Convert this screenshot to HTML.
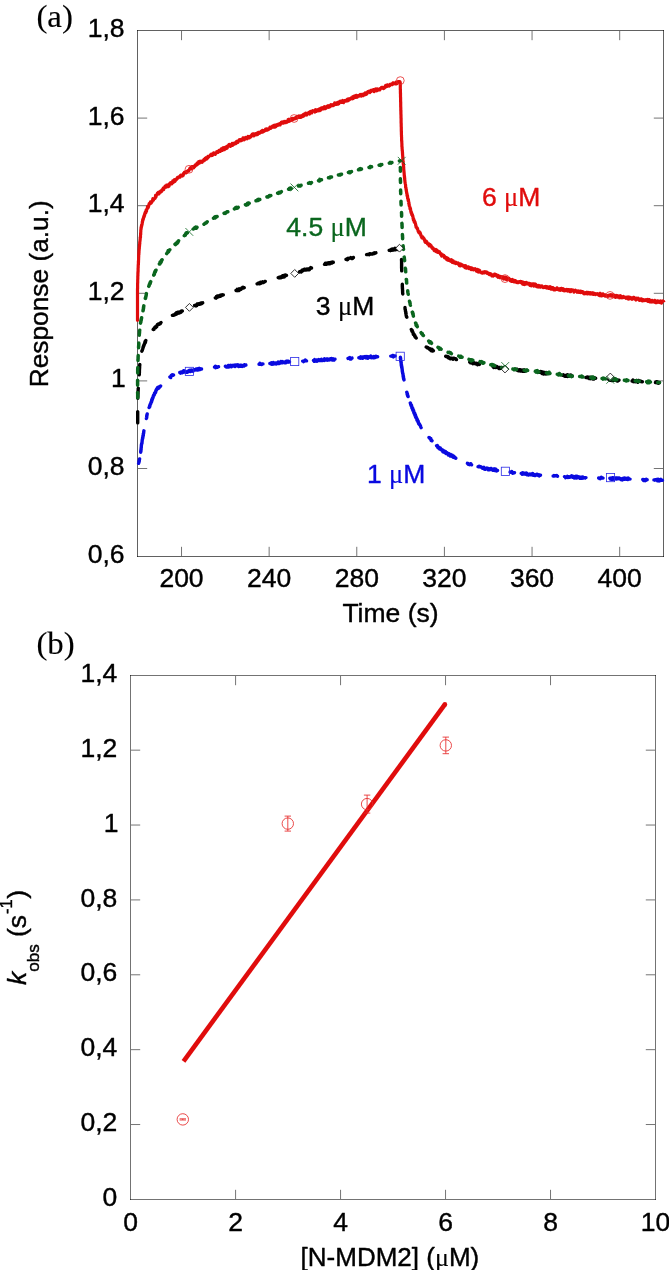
<!DOCTYPE html>
<html lang="en"><head><meta charset="utf-8"><title>Figure</title>
<style>html,body{margin:0;padding:0;background:#fff}svg{display:block}text{font-family:"Liberation Sans",sans-serif;fill:#000;stroke:#000;stroke-width:0.4px;stroke-linejoin:round}.se{font-family:"Liberation Serif",serif;stroke-width:0.12px}</style></head><body>
<svg width="669" height="1270" viewBox="0 0 669 1270">
<rect width="669" height="1270" fill="#fff"/>
<g fill="none" stroke="#000" stroke-width="1" stroke-opacity="0.62">
<path d="M137.0 30.5H664.0"/>
<path d="M137.0 556.5H664.0"/>
<path d="M137.5 30.0V557.0"/>
<path d="M663.5 30.0V557.0"/>
</g>
<path d="M181.52 556.0v-9.2M181.52 31.0v9.2M269.15 556.0v-9.2M269.15 31.0v9.2M356.78 556.0v-9.2M356.78 31.0v9.2M444.42 556.0v-9.2M444.42 31.0v9.2M532.05 556.0v-9.2M532.05 31.0v9.2M619.68 556.0v-9.2M619.68 31.0v9.2M138.0 468.50h9.2M663.0 468.50h-9.2M138.0 380.90h9.2M663.0 380.90h-9.2M138.0 293.30h9.2M663.0 293.30h-9.2M138.0 205.70h9.2M663.0 205.70h-9.2M138.0 118.10h9.2M663.0 118.10h-9.2" fill="none" stroke="#2a2a2a" stroke-width="0.65"/>
<text x="124.5" y="36.9" font-size="26.5" text-anchor="end">1,8</text>
<text x="124.5" y="124.5" font-size="26.5" text-anchor="end">1,6</text>
<text x="124.5" y="212.1" font-size="26.5" text-anchor="end">1,4</text>
<text x="124.5" y="299.7" font-size="26.5" text-anchor="end">1,2</text>
<text x="125.8" y="387.3" font-size="26.5" text-anchor="end">1</text>
<text x="124.5" y="474.9" font-size="26.5" text-anchor="end">0,8</text>
<text x="124.5" y="562.5" font-size="26.5" text-anchor="end">0,6</text>
<text x="181.5" y="587.3" font-size="26.5" text-anchor="middle">200</text>
<text x="269.1" y="587.3" font-size="26.5" text-anchor="middle">240</text>
<text x="356.8" y="587.3" font-size="26.5" text-anchor="middle">280</text>
<text x="444.4" y="587.3" font-size="26.5" text-anchor="middle">320</text>
<text x="532.0" y="587.3" font-size="26.5" text-anchor="middle">360</text>
<text x="619.7" y="587.3" font-size="26.5" text-anchor="middle">400</text>
<text x="390.5" y="621.9" font-size="26.5" text-anchor="middle">Time (s)</text>
<text transform="translate(47.6 387.3) rotate(-90)" font-size="26.3">Response (a.u.)</text>
<text class="se" x="36.4" y="27.1" font-size="30.6" textLength="36.6" lengthAdjust="spacingAndGlyphs">(a)</text>
<g fill="none" stroke-linejoin="round">
<path d="M137.7 422.9 137.7 422.5 137.7 422.3 137.7 421.2 137.7 421.4 137.7 421.1 137.7 420.9 137.7 419.2 137.7 419.2 137.7 418.3 137.7 419.1 137.7 418.5 137.7 416.8 137.7 418.1 137.7 417.6 137.7 416.6 137.7 416.0 137.7 414.8 137.7 414.0 137.7 414.5 137.7 413.1 137.7 412.9 137.7 412.5 137.7 411.6 137.7 412.1 137.7 411.7M137.8 398.2 137.8 397.7 137.9 396.7 137.9 396.6 137.9 397.3 137.9 396.4 137.9 394.8 137.9 394.6 138.0 393.9 138.0 393.4 138.0 394.3 138.0 392.7 138.0 393.0 138.0 392.4 138.1 391.5 138.1 392.0 138.1 390.5 138.1 391.0 138.2 389.7 138.2 389.8 138.2 388.9 138.2 388.7 138.3 388.3M139.2 374.8 139.3 374.4 139.3 374.0 139.3 374.0 139.3 372.3 139.3 373.3 139.4 372.8 139.4 371.9 139.4 371.2 139.4 370.3 139.4 369.7 139.4 370.9 139.5 369.2 139.5 369.6 139.5 368.3 139.5 368.9 139.6 368.0 139.6 367.0 139.6 366.4 139.6 366.9 139.7 365.3 139.7 365.1 139.8 364.9 139.8 364.5M141.9 351.2 142.1 350.7 142.2 350.3 142.3 350.2 142.4 350.1 142.5 349.4 142.7 348.9 142.8 348.6 142.9 348.4 143.1 347.0 143.2 347.2 143.3 347.1 143.5 346.6 143.6 345.4 143.8 345.7 144.0 345.5 144.1 344.6 144.3 344.3 144.5 343.5 144.7 343.5 144.8 343.1 145.0 341.7 145.2 342.3 145.4 342.5 145.6 341.0 145.8 340.6M153.2 329.4 153.5 329.0 153.9 329.5 154.2 328.3 154.5 328.4 154.8 327.6 155.1 327.0 155.4 327.3 155.8 327.5 156.1 327.2 156.4 326.5 156.8 326.6 157.1 325.0 157.4 324.5 157.8 324.7 158.1 324.2 158.5 323.9 158.8 324.0 159.2 324.2 159.5 323.7 159.9 323.2 160.2 323.8 160.6 322.8 161.0 322.5M172.4 315.3 172.8 315.2 173.2 314.9 173.6 315.3 174.0 314.7 174.4 314.7 174.9 314.7 175.3 313.8 175.7 314.3 176.1 314.3 176.5 312.7 176.9 314.0 177.3 313.5 177.8 312.2 178.2 312.7 178.6 312.8 179.0 313.1 179.4 312.0 179.8 312.1 180.3 312.5 180.7 312.1 181.1 312.2 181.5 311.1 181.9 311.3 182.3 311.1M194.6 305.5 195.0 305.4 195.4 305.6 195.9 306.0 196.3 305.1 196.7 305.7 197.2 303.9 197.6 304.0 198.0 304.4 198.4 303.7 198.9 304.3 199.3 304.0 199.7 303.6 200.1 304.1 200.6 303.5 201.0 302.9 201.4 302.9 201.8 303.6 202.3 302.9 202.7 302.8M215.3 297.8 215.7 297.7 216.1 298.1 216.5 296.4 216.9 297.4 217.4 295.9 217.8 296.1 218.2 296.0 218.6 296.7 219.1 296.0 219.5 295.9 219.9 296.3 220.3 295.2 220.7 296.2 221.2 295.0 221.6 295.6 222.0 295.0 222.4 294.8 222.9 295.0 223.3 294.9M236.0 290.4 236.4 290.3 236.9 290.6 237.3 289.3 237.7 289.6 238.2 290.3 238.6 290.6 239.0 290.5 239.4 288.8 239.9 289.3 240.3 289.6 240.7 289.0 241.1 289.2 241.6 288.1 242.0 287.7 242.4 287.5 242.9 287.2 243.3 288.0 243.7 287.9 244.2 287.7M257.1 283.8 257.5 283.7 257.9 283.7 258.4 283.1 258.8 283.3 259.2 283.0 259.7 283.8 260.1 283.3 260.5 282.2 261.0 283.3 261.4 282.8 261.8 282.8 262.2 282.7 262.7 281.9 263.1 282.6 263.5 282.5 264.0 282.0 264.4 282.0 264.8 281.5 265.3 281.4M278.2 277.6 278.7 277.5 279.1 278.0 279.5 277.2 280.0 277.0 280.4 277.8 280.8 277.0 281.3 277.7 281.7 277.0 282.1 277.2 282.6 275.8 283.0 276.7 283.4 276.9 283.9 275.4 284.3 276.9 284.8 275.3 285.2 275.8 285.6 275.1 286.1 275.5 286.5 275.4M299.5 271.9 300.0 271.7 300.4 271.8 300.8 271.2 301.2 271.9 301.7 271.5 302.1 271.0 302.5 269.9 302.9 270.7 303.4 270.3 303.8 269.7 304.2 269.2 304.7 270.0 305.1 269.2 305.5 269.7 305.9 270.0 306.4 269.5 306.8 269.1 307.2 269.6 307.6 269.1 308.1 269.7 308.5 269.1 308.9 269.8 309.4 269.6 309.8 269.0 310.2 268.0 310.7 267.6 311.1 268.1 311.5 268.0M324.5 264.4 325.0 264.3 325.4 263.2 325.9 263.2 326.3 264.3 326.7 263.9 327.2 264.0 327.6 262.9 328.0 263.2 328.5 262.8 328.9 263.7 329.4 262.8 329.8 263.2 330.2 263.7 330.7 262.4 331.1 262.7 331.5 262.9 332.0 263.1 332.4 262.1 332.9 262.4 333.3 262.3M346.0 259.3 346.4 259.2 346.9 258.8 347.3 259.7 347.7 259.5 348.2 258.3 348.6 258.4 349.1 258.3 349.5 258.2 349.9 258.1 350.4 258.0 350.8 257.6 351.2 258.2 351.7 258.5 352.1 258.0 352.6 258.4 353.0 257.6 353.4 257.5M366.6 254.6 367.1 254.5 367.5 254.4 368.0 254.4 368.4 254.6 368.8 254.5 369.3 254.7 369.7 253.7 370.2 254.3 370.6 253.9 371.0 254.1 371.5 253.9 371.9 253.9 372.4 253.9 372.8 254.0 373.3 253.4 373.7 253.1 374.1 253.4 374.6 253.5 375.0 252.8 375.5 252.9 375.9 252.8M389.2 250.3 389.6 250.2 390.1 250.3 390.5 250.6 390.9 249.9 391.4 249.3 391.8 250.3 392.3 250.3 392.7 249.1 393.2 249.3 393.6 250.0 394.0 249.1 394.5 248.6 394.9 248.2 395.4 249.8 395.8 249.5 396.3 248.7 396.7 248.8 397.1 248.7 397.6 248.2 398.0 249.4 398.5 248.5 398.9 248.5" stroke="#000" stroke-width="3.4" stroke-linecap="round"/>
<path d="M401.5 259.4 401.5 259.9 401.5 259.4 401.6 261.4 401.6 261.8 401.6 260.9 401.6 262.0 401.6 262.0 401.6 262.8 401.6 263.9 401.6 263.6 401.6 265.0 401.6 264.3 401.6 264.9 401.6 266.5 401.6 266.2 401.6 266.6 401.6 267.4 401.6 267.6 401.6 267.9 401.6 267.8 401.7 269.5 401.7 270.4 401.7 270.9 401.7 270.2 401.7 270.7M402.3 284.2 402.3 284.6 402.3 285.1 402.3 286.4 402.3 285.4 402.3 287.3 402.4 286.7 402.4 286.9 402.4 288.3 402.4 289.1 402.4 287.9 402.5 288.8 402.5 290.2 402.5 289.8 402.5 290.1 402.6 290.1 402.6 290.6 402.6 292.1 402.7 293.1 402.7 293.7 402.7 293.2 402.8 293.6 402.8 294.1M405.0 307.4 405.0 307.9 405.1 309.2 405.2 309.7 405.3 309.7 405.3 309.6 405.4 310.3 405.5 311.3 405.5 311.6 405.6 311.7 405.7 311.7 405.8 312.2 405.8 313.4 405.9 313.5 406.0 313.0 406.1 314.7 406.2 315.5 406.3 315.8 406.4 316.4 406.5 316.8 406.6 316.6 406.7 316.7 406.8 317.2M411.3 329.4 411.5 329.8 411.7 329.9 411.9 331.4 412.1 330.2 412.3 331.2 412.5 331.4 412.7 331.7 412.9 332.6 413.1 332.6 413.3 334.3 413.6 333.9 413.8 334.7 414.0 334.1 414.2 335.0 414.5 335.6 414.7 336.3 414.9 335.6 415.2 336.3 415.4 337.3 415.7 337.6 416.0 337.6 416.2 338.0M426.2 347.0 426.6 347.2 427.0 347.3 427.4 347.9 427.8 347.5 428.2 348.0 428.6 348.2 429.0 348.5 429.4 348.7 429.8 349.7 430.2 348.8 430.6 349.0 431.0 349.3 431.4 350.7 431.8 350.1 432.2 349.4 432.6 351.0 433.0 350.6 433.4 350.8M445.7 356.3 446.1 356.5 446.6 356.3 447.0 356.4 447.4 356.7 447.8 357.3 448.3 356.7 448.7 358.0 449.1 357.4 449.5 358.3 450.0 358.2 450.4 358.8 450.8 358.4 451.3 358.1 451.7 358.2 452.1 358.6 452.6 359.0 453.0 359.2 453.4 358.1 453.8 358.1 454.3 358.4 454.7 358.5 455.2 358.6 455.6 358.7 456.0 359.5 456.5 359.6M469.7 362.1 470.2 362.2 470.6 362.9 471.1 362.8 471.5 362.1 471.9 362.2 472.4 363.2 472.8 363.7 473.2 362.9 473.7 362.6 474.1 363.6 474.5 363.6 475.0 363.5 475.4 363.3 475.9 363.6 476.3 364.0 476.7 363.2 477.2 363.9 477.6 364.7 478.1 364.3 478.5 363.6 479.0 364.3 479.4 364.4M492.8 366.3 493.2 366.4 493.7 367.4 494.1 366.9 494.5 366.1 495.0 366.7 495.4 366.4 495.9 367.5 496.3 366.5 496.8 366.5 497.2 367.4 497.6 367.5 498.1 367.5 498.5 367.4 499.0 368.4 499.4 367.5 499.9 368.5 500.3 367.6 500.8 367.8 501.2 367.6 501.6 368.3 502.1 368.0 502.5 368.0M516.0 369.6 516.4 369.7 516.8 369.2 517.3 369.4 517.7 370.6 518.2 370.7 518.6 370.8 519.1 370.2 519.5 369.9 520.0 369.7 520.4 371.0 520.9 370.9 521.3 370.5 521.8 371.0 522.2 370.1 522.7 370.6 523.1 371.3 523.6 369.9 524.0 370.8 524.5 370.0 524.9 371.2 525.4 370.7 525.8 370.7M539.2 372.3 539.7 372.4 540.1 371.8 540.6 371.4 541.0 371.7 541.5 371.6 541.9 373.5 542.4 372.1 542.8 373.1 543.3 372.3 543.7 374.0 544.1 373.2 544.6 372.5 545.0 373.7 545.5 373.7 545.9 373.9 546.4 372.6 546.8 372.9 547.3 373.4 547.7 372.8 548.2 373.4 548.6 373.5 549.1 373.6M562.5 375.2 562.9 375.2 563.4 374.8 563.8 375.3 564.3 376.0 564.7 375.7 565.2 376.3 565.6 375.9 566.1 375.3 566.5 376.2 567.0 375.2 567.4 374.7 567.9 376.4 568.3 376.3 568.8 375.9 569.2 375.6 569.7 375.2 570.1 375.2 570.6 375.0 571.0 375.1 571.4 375.8 571.9 376.1 572.3 376.2M585.8 377.5 586.3 377.5 586.7 377.2 587.1 377.6 587.6 376.9 588.0 377.1 588.5 378.0 588.9 377.7 589.4 378.5 589.8 377.2 590.3 377.1 590.7 378.7 591.2 378.2 591.6 378.4 592.1 378.2 592.5 377.5 593.0 379.1 593.4 378.2 593.9 379.0 594.3 377.7 594.8 377.9 595.2 378.3 595.7 378.3M608.7 379.4 609.1 379.4 609.6 380.0 610.0 380.2 610.5 378.7 610.9 379.3 611.4 380.4 611.8 379.0 612.3 378.9 612.7 379.3 613.2 380.4 613.6 379.4 614.1 380.3 614.5 379.2 615.0 380.3 615.4 379.5 615.9 380.3 616.3 380.6 616.8 380.9 617.2 380.1 617.7 381.1 618.1 380.1 618.6 380.1 619.0 380.2M632.1 381.0 632.5 381.1 633.0 380.1 633.4 381.7 633.9 380.8 634.3 381.0 634.8 380.9 635.2 381.7 635.7 380.7 636.1 380.6 636.6 380.5 637.0 380.7 637.5 381.6 637.9 382.3 638.4 380.5 638.8 381.4 639.3 381.3 639.7 381.3 640.2 381.4 640.6 381.0 641.1 381.6 641.5 381.4 642.0 381.7 642.4 381.7M655.5 382.5 655.9 382.6 656.4 381.8 656.8 382.6 657.3 381.9 657.7 383.1 658.2 383.2 658.6 383.2 659.1 382.8 659.5 382.8" stroke="#000" stroke-width="3.4" stroke-linecap="round"/>
<path d="M137.7 397.8 137.7 397.3 137.7 397.3 137.7 396.4 137.7 396.0 137.7 395.1 137.7 394.2 137.7 394.5 137.7 394.5 137.7 393.1 137.7 393.3 137.6 392.8M137.6 385.2 137.6 384.7 137.6 384.0 137.6 383.8 137.6 382.8 137.6 382.2 137.6 383.3 137.6 381.7 137.6 382.3 137.6 380.9 137.6 380.7 137.6 380.2M137.7 373.0 137.7 372.6 137.7 371.4 137.7 372.1 137.7 372.2 137.7 370.9 137.7 370.5 137.7 370.1 137.7 370.1 137.7 368.7 137.7 369.0 137.8 368.1 137.8 367.6M138.0 360.4 138.0 360.0 138.0 360.5 138.0 360.1 138.0 359.0 138.1 359.1 138.1 357.9 138.1 357.3 138.1 356.6 138.1 357.3 138.2 355.9 138.2 355.5M138.6 347.8 138.6 347.4 138.6 347.2 138.7 345.5 138.7 345.4 138.7 346.1 138.7 345.6 138.7 345.4 138.8 344.4 138.8 343.7 138.8 343.3 138.8 342.9M139.3 335.2 139.3 334.8 139.3 333.8 139.4 333.3 139.4 333.6 139.4 332.5 139.5 333.3 139.5 332.4 139.5 331.0 139.6 331.2 139.6 330.7 139.7 330.3M140.5 323.1 140.6 322.7 140.7 322.0 140.8 322.4 140.9 321.3 140.9 320.4 141.0 320.5 141.1 319.9 141.2 320.5 141.3 318.9 141.4 318.8 141.5 318.3 141.6 317.8M143.0 310.8 143.1 310.3 143.2 309.3 143.2 310.2 143.3 309.6 143.4 308.6 143.5 308.4 143.5 306.9 143.6 307.5 143.7 306.6 143.7 306.3 143.8 305.9M145.3 298.4 145.4 297.9 145.5 298.4 145.6 297.8 145.7 297.1 145.8 296.9 145.9 296.3 146.0 296.3 146.1 295.5 146.2 295.1 146.3 294.0 146.4 293.6M148.8 286.3 149.0 285.9 149.1 285.7 149.3 284.4 149.5 284.2 149.7 284.3 149.8 283.9 150.0 282.8 150.2 283.6 150.4 282.1 150.5 282.1 150.7 281.7M153.7 275.1 153.8 274.7 154.0 274.8 154.2 274.7 154.4 273.9 154.6 272.3 154.8 272.8 155.0 271.5 155.2 272.1 155.4 271.8 155.6 270.5 155.8 270.7 156.0 270.2M159.4 263.9 159.7 263.6 159.9 264.0 160.1 262.0 160.4 262.7 160.6 261.4 160.9 262.5 161.1 261.9 161.4 261.5 161.6 260.1 161.9 260.1 162.1 259.8M166.7 253.6 166.9 253.3 167.2 252.7 167.5 252.7 167.8 252.3 168.1 251.0 168.3 250.5 168.6 251.7 168.9 250.7 169.2 250.2 169.5 250.1 169.8 249.8M175.0 244.2 175.3 243.9 175.7 244.6 176.0 243.6 176.3 243.9 176.6 243.7 177.0 242.4 177.3 243.1 177.6 242.7 178.0 242.2 178.3 241.1 178.6 240.8M184.3 235.7 184.6 235.3 184.9 235.0 185.3 235.2 185.6 234.1 185.9 233.4 186.3 232.9 186.6 233.3 186.9 233.2 187.3 232.9M193.3 229.0 193.7 228.8 194.1 228.5 194.5 227.9 194.9 228.3 195.3 228.0 195.8 227.0 196.2 228.3 196.6 227.6 197.0 227.4M204.0 224.2 204.3 223.9 204.7 223.6 205.1 223.3 205.4 223.0 205.8 223.1 206.1 222.7 206.5 222.6 206.9 222.1 207.2 221.8M213.5 218.2 213.9 218.0 214.3 217.3 214.7 217.7 215.1 217.9 215.5 216.8 215.9 217.4 216.3 216.6 216.7 216.7 217.1 216.5M224.1 213.3 224.5 213.1 224.9 212.8 225.3 213.4 225.7 213.0 226.1 212.5 226.6 212.4 227.0 211.7 227.4 211.8 227.8 211.7M234.4 208.9 234.9 208.7 235.3 208.0 235.7 207.7 236.1 208.3 236.5 207.4 237.0 207.7 237.4 208.2 237.8 207.6 238.2 207.4M245.4 204.7 245.8 204.6 246.2 205.1 246.7 204.7 247.1 204.3 247.5 203.4 247.9 204.7 248.3 203.0 248.8 203.5 249.2 203.3M256.0 200.8 256.4 200.7 256.8 200.7 257.2 200.1 257.7 199.5 258.1 199.6 258.5 200.3 258.9 199.4 259.3 199.6 259.8 199.5M267.0 196.9 267.4 196.7 267.8 196.6 268.3 196.9 268.7 196.3 269.1 195.8 269.5 195.5 269.9 196.0 270.4 195.7 270.8 195.5M277.6 193.1 278.0 193.0 278.4 193.3 278.9 192.4 279.3 192.2 279.7 192.9 280.1 192.4 280.5 192.4 281.0 191.9 281.4 191.7M288.6 189.2 289.0 189.0 289.5 188.3 289.9 189.2 290.3 188.0 290.7 188.5 291.2 188.3M298.5 186.0 298.9 185.9 299.3 185.6 299.8 186.0 300.2 186.1 300.6 185.4 301.1 185.3M308.5 183.3 308.9 183.2 309.4 182.8 309.8 182.6 310.2 182.9 310.7 183.5 311.1 182.7 311.5 182.5M318.5 180.6 318.9 180.5 319.4 181.0 319.8 179.4 320.2 180.4 320.7 179.8 321.1 179.9 321.5 179.8M328.5 177.8 328.9 177.7 329.3 177.6 329.8 178.0 330.2 176.9 330.6 176.9 331.1 177.1 331.5 177.0M338.4 175.0 338.9 174.9 339.3 174.9 339.7 174.5 340.2 175.0 340.6 174.7 341.0 174.3 341.5 174.2M348.4 172.4 348.9 172.3 349.3 171.8 349.7 172.8 350.2 172.4 350.6 172.3 351.1 171.7 351.5 171.6M358.5 169.8 358.9 169.7 359.4 169.0 359.8 169.0 360.2 168.6 360.7 169.4 361.1 169.2 361.5 169.1M369.0 167.4 369.4 167.3 369.9 167.6 370.3 166.5 370.8 167.2 371.2 166.9 371.6 166.8M379.1 165.2 379.6 165.1 380.0 164.8 380.5 165.4 380.9 164.5 381.3 164.7 381.8 164.6M389.3 163.1 389.7 163.0 390.2 162.4 390.6 162.9 391.0 163.2 391.5 162.6 391.9 162.5M399.4 161.0 399.9 160.9 400.3 160.8" stroke="#0a661e" stroke-width="3.5" stroke-linecap="round"/>
<path d="M400.3 167.6 400.3 168.0 400.4 167.7 400.4 169.6 400.4 169.5 400.4 169.4 400.4 169.5 400.4 170.7 400.4 171.2M400.4 178.8 400.4 179.3 400.4 178.8 400.4 180.9 400.5 180.6 400.5 181.2 400.5 181.5 400.5 182.0 400.5 182.4M400.6 190.1 400.6 190.5 400.6 190.2 400.6 192.1 400.7 191.3 400.7 192.4 400.7 192.5 400.7 193.2 400.7 193.7M401.0 201.3 401.0 201.8 401.0 202.2 401.0 203.2 401.1 203.5 401.1 203.5 401.1 204.7 401.1 204.5 401.1 204.9M401.5 212.6 401.5 213.0 401.5 212.7 401.6 213.9 401.6 213.9 401.6 214.6 401.6 215.8 401.6 215.7 401.6 216.2M401.9 223.4 402.0 223.8 402.0 224.3 402.0 223.8 402.0 225.1 402.0 225.7 402.0 225.2 402.1 226.5 402.1 227.0 402.1 227.4M402.4 234.6 402.4 235.1 402.5 235.4 402.5 236.7 402.5 236.6 402.5 236.5 402.6 237.1 402.6 237.3 402.6 238.2 402.6 238.7M403.1 245.9 403.2 246.3 403.2 246.7 403.2 247.7 403.3 247.7 403.3 248.0 403.4 248.9 403.4 249.0 403.5 249.4M404.2 257.1 404.3 257.5 404.3 258.4 404.3 258.3 404.4 258.7 404.4 259.1 404.5 259.2 404.5 260.2 404.6 260.6M405.3 268.3 405.4 268.7 405.4 268.5 405.5 268.8 405.5 269.5 405.6 270.1 405.6 270.3 405.6 271.4 405.7 271.8M406.3 279.5 406.4 279.9 406.4 279.4 406.5 279.9 406.5 280.5 406.6 281.4 406.6 282.5 406.6 282.6 406.7 283.1M407.7 290.7 407.7 291.1 407.8 292.1 407.9 292.5 407.9 291.9 408.0 292.9 408.1 293.6 408.1 293.8 408.2 294.2M409.5 301.3 409.6 301.7 409.7 302.3 409.8 301.9 409.9 302.2 410.0 303.1 410.1 304.1 410.2 303.9 410.3 304.8 410.4 305.2M412.3 312.2 412.5 312.6 412.6 312.4 412.7 314.0 412.8 312.9 412.9 313.5 413.1 313.8 413.2 315.7 413.3 315.7 413.4 316.1M415.6 323.0 415.8 323.4 415.9 323.3 416.1 325.2 416.3 325.5 416.5 325.1 416.7 325.4 416.9 325.3 417.1 326.3 417.3 326.7M421.1 332.7 421.4 333.1 421.7 333.8 422.0 333.8 422.2 333.6 422.5 334.6 422.8 335.1 423.1 335.2 423.4 335.5M428.7 341.0 429.1 341.3 429.4 342.4 429.8 342.6 430.1 341.6 430.5 342.2 430.8 342.0 431.2 343.0 431.5 343.3M438.0 347.4 438.4 347.6 438.8 347.6 439.1 348.1 439.5 349.2 439.9 348.2 440.3 348.4 440.7 349.0 441.1 349.2M448.1 352.4 448.5 352.6 448.9 352.4 449.3 352.7 449.7 352.4 450.2 352.7 450.6 352.7 451.0 353.5 451.4 353.7M458.7 356.1 459.1 356.2 459.5 356.2 460.0 357.1 460.4 356.3 460.8 356.2 461.2 357.3 461.7 357.1 462.1 357.2M469.0 359.4 469.4 359.5 469.8 360.1 470.3 360.2 470.7 359.9 471.2 360.9 471.6 360.7 472.0 359.8 472.5 360.3 472.9 360.3M480.0 361.7 480.4 361.9 480.9 361.8 481.3 361.6 481.7 361.9 482.2 362.7 482.6 362.1 483.0 363.3 483.5 362.7 483.9 362.8M490.8 364.8 491.2 364.9 491.7 364.6 492.1 364.8 492.6 365.5 493.0 364.7 493.4 364.9 493.9 365.1 494.3 365.8 494.7 365.9M501.7 367.5 502.2 367.6 502.6 367.8 503.1 367.8 503.5 368.2 504.0 367.3 504.4 368.0 504.8 368.1 505.3 368.1M512.9 369.0 513.3 369.1 513.8 369.3 514.2 369.8 514.7 369.5 515.1 368.8 515.6 369.5 516.0 369.4 516.5 369.4M524.1 370.2 524.5 370.2 525.0 370.2 525.4 370.5 525.9 371.0 526.3 370.2 526.8 369.9 527.2 370.5 527.7 370.5M535.3 371.4 535.7 371.5 536.2 372.2 536.6 370.8 537.1 371.4 537.5 370.7 538.0 372.4 538.4 371.8 538.9 371.9M546.4 372.9 546.9 373.0 547.3 372.8 547.8 373.6 548.2 372.9 548.7 373.5 549.1 372.2 549.6 373.3 550.0 373.4M557.2 374.3 557.6 374.3 558.1 374.1 558.5 374.9 559.0 374.7 559.4 373.5 559.8 374.7 560.3 375.0 560.7 374.7 561.2 374.7M568.4 375.5 568.8 375.5 569.3 376.1 569.7 375.6 570.1 375.8 570.6 375.9 571.0 376.1 571.5 376.6 571.9 375.9 572.4 375.9M579.6 376.6 580.0 376.6 580.5 376.4 580.9 376.4 581.4 376.0 581.8 377.0 582.3 376.3 582.7 376.9 583.1 376.9M590.8 377.6 591.2 377.7 591.7 377.0 592.1 378.3 592.6 378.1 593.0 377.0 593.5 378.3 593.9 377.9 594.4 377.9M602.0 378.6 602.4 378.6 602.9 379.1 603.3 378.1 603.8 378.6 604.2 378.8 604.7 378.6 605.1 378.8 605.6 378.9M613.2 379.4 613.7 379.5 614.1 378.7 614.6 379.2 615.0 380.1 615.5 378.9 615.9 379.1 616.4 379.7 616.8 379.7M624.4 380.2 624.9 380.3 625.3 380.5 625.8 380.8 626.2 381.0 626.7 379.8 627.1 380.7 627.6 380.4 628.0 380.5M635.2 380.9 635.7 381.0 636.1 381.1 636.6 380.5 637.0 381.1 637.5 381.1 637.9 381.1 638.4 381.6 638.8 381.2 639.3 381.2M646.5 381.7 646.9 381.7 647.4 382.6 647.8 381.8 648.3 381.1 648.7 381.7 649.2 382.7 649.6 381.3 650.1 381.9 650.5 381.9M657.7 382.4 658.2 382.4 658.6 382.4 659.1 382.5 659.5 382.5" stroke="#0a661e" stroke-width="3.5" stroke-linecap="round"/>
<path d="M138.6 463.3 138.7 462.8 138.8 461.9 138.9 461.7 139.0 462.3 139.1 460.7 139.2 461.4 139.3 460.8 139.4 459.4 139.5 459.3 139.6 458.9M140.7 452.2 140.7 451.8 140.8 451.3 140.8 450.6 140.9 451.4 140.9 451.2 141.0 449.0 141.0 449.9 141.1 449.6 141.1 448.7 141.2 447.3 141.2 447.9 141.3 447.3 141.3 445.8 141.4 446.1 141.4 444.9 141.5 444.2 141.6 444.3 141.6 443.9 141.7 443.7 141.8 443.7 141.8 443.7 141.9 443.4 142.0 443.0 142.0 442.5 142.1 441.6 142.2 440.2 142.3 439.5 142.3 439.8 142.4 439.3 142.5 439.1 142.6 437.7 142.6 437.5 142.7 438.5 142.8 437.5 142.9 437.3 142.9 435.7 143.0 435.8 143.1 436.3 143.2 435.4 143.3 435.6 143.3 433.6 143.4 433.7 143.5 433.9 143.6 432.8 143.7 433.0 143.7 432.1 143.8 431.3 143.9 430.8M146.4 418.5 146.5 418.0 146.6 416.9 146.7 417.8 146.7 415.8 146.8 416.3 146.9 415.1 147.0 414.5 147.0 415.2 147.1 414.5 147.2 414.0M149.1 407.6 149.3 407.2 149.5 407.0 149.6 405.8 149.8 406.7 149.9 404.9 150.1 405.1 150.2 404.1 150.4 404.2 150.5 403.6 150.7 403.5 150.8 403.6 151.0 402.9 151.1 401.9 151.3 402.5 151.4 402.0 151.6 401.7 151.7 399.8 151.9 400.5 152.0 400.6 152.2 398.9 152.4 398.3 152.5 399.1 152.7 397.8 152.9 397.4 153.1 397.7 153.2 396.5 153.4 395.7 153.6 395.3 153.8 395.1 154.0 395.3 154.2 394.3 154.4 394.6 154.6 392.9 154.8 392.8 155.0 393.1 155.2 392.5 155.4 392.1 155.6 392.6 155.8 390.9 156.0 390.3 156.3 389.6 156.5 390.1 156.8 389.3 157.0 389.3 157.3 388.0 157.6 387.6 157.9 388.0 158.2 388.4 158.6 387.3 158.9 388.1 159.3 387.2 159.6 386.6 159.9 387.0 160.3 386.3 160.6 386.0M169.9 376.9 170.3 376.7 170.7 377.6 171.1 375.7 171.5 375.3 171.9 375.6 172.3 374.8 172.7 375.3 173.1 375.3 173.5 375.1M179.8 372.5 180.2 372.4 180.6 373.1 181.1 371.9 181.5 371.9 182.0 371.8 182.4 372.7 182.8 372.1 183.3 372.3 183.7 370.7 184.2 372.0 184.6 371.5 185.1 371.4 185.5 372.1 186.0 372.0 186.4 372.3 186.8 371.8 187.3 372.1 187.7 371.1 188.2 371.2 188.6 371.6 189.1 370.9 189.5 370.2 190.0 371.0 190.4 371.5 190.8 371.4 191.3 370.0 191.7 370.4 192.2 370.1 192.6 370.2 193.1 371.3 193.5 370.1 194.0 369.8 194.4 369.6 194.9 369.7 195.3 370.0 195.7 369.3 196.2 368.9 196.6 369.0 197.1 369.0 197.5 370.1 198.0 368.7 198.4 369.7 198.9 368.4 199.3 369.7 199.8 368.6 200.2 369.5 200.6 368.8 201.1 369.1 201.5 369.0M214.5 367.1 214.9 367.0 215.4 366.2 215.8 367.7 216.3 366.7 216.7 366.7 217.2 367.2 217.6 367.2 218.1 366.8 218.5 366.7M225.3 366.3 225.7 366.3 226.2 366.9 226.6 366.6 227.1 366.2 227.5 367.1 228.0 366.9 228.4 365.5 228.9 367.0 229.3 366.4 229.8 365.7 230.2 365.4 230.6 365.3 231.1 366.7 231.5 366.7 232.0 365.8 232.4 365.5 232.9 365.3 233.3 366.0 233.8 365.7 234.2 365.2 234.7 365.6 235.1 366.5 235.6 365.1 236.0 365.7 236.5 365.8 236.9 365.1 237.4 364.8 237.8 364.9 238.3 365.0 238.7 366.5 239.2 366.3 239.6 365.9 240.1 366.3 240.5 365.2 241.0 365.1 241.4 366.3 241.9 365.8 242.3 366.4 242.8 365.4 243.2 365.4 243.7 365.9 244.1 366.1 244.6 364.7 245.0 364.8 245.5 365.2 245.9 365.1M259.0 364.2 259.4 364.2 259.9 363.2 260.3 364.2 260.8 364.2 261.2 364.4 261.7 364.5 262.1 363.9 262.6 363.9 263.0 363.9M269.8 363.4 270.2 363.4 270.7 363.8 271.1 363.1 271.6 362.7 272.0 364.3 272.5 363.8 272.9 363.7 273.4 362.6 273.8 364.1 274.3 363.1 274.7 363.2 275.2 363.3 275.6 363.0 276.1 363.9 276.5 362.9 276.9 363.2 277.4 363.3 277.8 363.5 278.3 362.0 278.7 362.3 279.2 363.4 279.6 362.6 280.1 362.1 280.5 363.0 281.0 361.6 281.4 361.9 281.9 361.6 282.3 362.8 282.8 362.5 283.2 362.3 283.7 362.6 284.1 362.1 284.6 362.9 285.0 362.9 285.5 362.0 285.9 362.8 286.4 361.2 286.8 362.1 287.3 361.3 287.7 361.3 288.2 362.1 288.6 361.3 289.1 362.0 289.5 361.9M302.6 361.1 303.0 361.1 303.5 361.6 303.9 361.2 304.4 360.7 304.8 361.0 305.3 360.1 305.7 360.4 306.2 360.9 306.6 360.9M313.4 360.4 313.8 360.4 314.3 361.3 314.7 359.6 315.2 361.2 315.6 360.8 316.1 360.3 316.5 360.1 317.0 361.2 317.4 360.9 317.9 359.9 318.3 360.1 318.8 359.6 319.2 360.6 319.7 360.1 320.1 359.8 320.6 360.5 321.0 359.6 321.5 359.3 321.9 360.5 322.4 360.6 322.8 360.4 323.3 359.9 323.7 360.2 324.2 360.4 324.6 358.8 325.1 359.2 325.5 359.3 326.0 360.0 326.4 359.2 326.9 359.9 327.3 358.9 327.8 360.2 328.2 359.2 328.7 359.5 329.1 359.6 329.6 359.9 330.0 359.5 330.5 358.8 330.9 359.2 331.4 359.5 331.8 358.5 332.3 359.9 332.7 358.9 333.2 360.1 333.6 359.0 334.1 360.1 334.5 359.2 335.0 359.1M348.0 358.4 348.4 358.3 348.9 358.0 349.3 357.9 349.8 357.5 350.2 359.0 350.7 358.1 351.1 358.9 351.6 358.2 352.0 358.1M358.8 357.7 359.2 357.7 359.7 358.0 360.1 357.2 360.6 356.9 361.0 358.2 361.5 358.0 361.9 357.6 362.4 358.3 362.8 356.9 363.3 357.9 363.7 357.4 364.2 356.7 364.6 356.7 365.1 356.5 365.5 356.8 366.0 357.9 366.4 357.3 366.9 356.5 367.3 357.3 367.8 358.2 368.2 357.8 368.7 356.9 369.1 357.2 369.6 356.9 370.0 356.6 370.5 357.4 370.9 356.1 371.4 356.9 371.8 357.7 372.3 357.4 372.7 357.2 373.2 357.5 373.6 357.8 374.1 356.5 374.5 357.7 375.0 357.6 375.4 356.9 375.9 356.2 376.3 357.0 376.8 356.9 377.2 356.7 377.7 356.7M390.7 356.1 391.2 356.1 391.6 355.9 392.1 356.2 392.5 355.4 393.0 355.4 393.4 356.9 393.9 356.4 394.3 356.1 394.8 356.0 395.2 356.0" stroke="#0a0ae0" stroke-width="3.4" stroke-linecap="round"/>
<path d="M400.4 357.2 400.4 357.7 400.5 358.8 400.6 358.0 400.6 359.3 400.7 360.3 400.7 360.1 400.8 361.3 400.9 361.6 400.9 361.1 401.0 360.8 401.0 362.7 401.1 362.0 401.2 362.2 401.2 364.1 401.3 364.8 401.3 365.3 401.4 366.0 401.5 365.0 401.5 365.2 401.6 365.6 401.7 367.6 401.7 366.4 401.8 366.8 401.9 366.9 401.9 367.4 402.0 367.8 402.1 368.8 402.1 368.9 402.2 369.6 402.3 371.3 402.3 370.3 402.4 371.9 402.5 372.2 402.6 372.3 402.6 372.8 402.7 373.6 402.8 373.7 402.9 373.5 403.0 374.1 403.0 374.4 403.1 375.2 403.2 376.9 403.3 376.3 403.4 376.1 403.5 377.4 403.5 378.6 403.6 378.3 403.7 379.2 403.8 378.5 403.9 379.5 404.0 379.9M406.8 392.2 407.0 392.6 407.1 393.5 407.2 394.6 407.3 394.6 407.5 394.1 407.6 395.7 407.7 396.0 407.8 395.5 408.0 396.1 408.1 396.5M410.3 402.9 410.5 403.3 410.7 404.5 410.8 404.7 411.0 405.0 411.1 405.6 411.3 405.3 411.5 405.2 411.6 406.1 411.8 407.7 412.0 408.2 412.1 407.2 412.3 408.1 412.4 408.5 412.6 409.7 412.8 408.4 412.9 410.4 413.1 409.7 413.3 410.7 413.4 410.3 413.6 410.5 413.8 412.5 413.9 412.1 414.1 413.4 414.3 413.6 414.4 413.7 414.6 412.8 414.8 414.2 414.9 415.4 415.1 414.9 415.3 414.5 415.5 415.2 415.6 417.1 415.8 417.5 416.0 416.6 416.2 417.1 416.3 418.3 416.5 418.3 416.7 418.1 416.9 420.0 417.1 419.7 417.2 419.6 417.4 419.4 417.6 420.8 417.8 421.7 418.0 421.0 418.2 421.3 418.4 422.9 418.6 423.7 418.8 423.1 419.0 423.6 419.2 424.3 419.4 424.5 419.6 424.2 419.8 424.8 420.0 425.1 420.2 425.5 420.4 425.7 420.7 426.6 420.9 427.3 421.1 427.6M429.0 437.5 429.3 437.8 429.6 437.7 429.9 438.5 430.2 438.7 430.5 439.0 430.8 438.5 431.1 440.5 431.4 440.1 431.7 440.5 432.0 440.8M436.6 445.8 436.9 446.1 437.3 445.5 437.6 446.9 437.9 447.7 438.3 446.8 438.6 447.8 438.9 448.0 439.3 448.4 439.6 449.0 440.0 448.9 440.3 447.9 440.7 449.3 441.1 449.1 441.4 449.5 441.8 450.3 442.2 449.7 442.5 450.8 442.9 451.7 443.3 450.3 443.7 452.0 444.0 451.9 444.4 451.6 444.8 452.5 445.2 451.4 445.6 451.7 445.9 453.6 446.3 453.1 446.7 452.5 447.1 452.7 447.5 453.5 447.9 453.9 448.3 455.0 448.7 453.7 449.1 454.7 449.5 454.6 449.9 455.0 450.2 455.9 450.6 454.5 451.0 456.1 451.4 456.1 451.8 455.4 452.2 455.3 452.6 456.7 453.0 457.1 453.4 456.4 453.8 456.2 454.2 457.2 454.6 457.7 455.0 457.3 455.4 458.0 455.8 458.2M467.4 463.3 467.8 463.4 468.2 464.3 468.6 464.4 469.1 464.2 469.5 464.7 469.9 464.6 470.3 463.9 470.8 463.7 471.2 464.7 471.6 464.8M478.1 466.7 478.5 466.8 479.0 466.3 479.4 466.6 479.9 466.5 480.3 467.0 480.7 466.7 481.2 467.0 481.6 467.2 482.1 467.3 482.5 468.2 482.9 467.8 483.4 467.6 483.8 467.3 484.3 469.0 484.7 469.0 485.1 469.3 485.6 468.9 486.0 468.4 486.5 468.3 486.9 468.1 487.4 468.7 487.8 468.8 488.2 469.8 488.7 468.5 489.1 469.5 489.6 469.7 490.0 469.6 490.4 469.5 490.9 468.4 491.3 468.7 491.8 469.4 492.2 469.6 492.7 470.3 493.1 470.0 493.6 469.0 494.0 469.0 494.4 470.3 494.9 468.9 495.3 470.7 495.8 469.2 496.2 470.3 496.7 470.9 497.1 470.4 497.6 470.4M510.1 472.1 510.5 472.2 510.9 472.0 511.4 472.3 511.8 471.5 512.3 472.5 512.7 473.3 513.2 473.0 513.6 472.7 514.1 472.6 514.5 472.7M521.2 473.4 521.7 473.5 522.1 474.2 522.6 472.8 523.0 473.0 523.5 472.9 523.9 474.1 524.4 474.0 524.8 473.8 525.3 473.2 525.7 473.7 526.2 474.3 526.6 473.1 527.1 474.8 527.5 474.5 528.0 474.9 528.4 475.1 528.9 474.3 529.3 474.0 529.8 474.2 530.2 474.4 530.7 474.7 531.1 474.0 531.6 474.1 532.0 474.5 532.4 475.0 532.9 473.6 533.3 475.3 533.8 474.9 534.2 474.7 534.7 474.9 535.1 475.5 535.6 474.9 536.0 474.8 536.5 474.4 536.9 474.9 537.4 474.3 537.8 474.7 538.3 475.4 538.7 474.8 539.2 475.9 539.6 475.0 540.1 475.1 540.5 475.2M553.1 476.0 553.6 476.0 554.0 475.5 554.5 476.0 554.9 475.7 555.4 475.7 555.8 475.9 556.3 475.6 556.7 475.4 557.2 476.2 557.6 476.2M564.4 476.6 564.8 476.6 565.3 477.1 565.7 477.7 566.2 476.9 566.6 476.7 567.1 477.1 567.5 476.4 568.0 477.5 568.4 477.0 568.9 476.7 569.3 477.2 569.8 477.3 570.2 477.1 570.7 476.5 571.1 476.8 571.6 475.9 572.0 476.8 572.5 476.2 572.9 477.3 573.4 476.5 573.8 476.8 574.3 478.0 574.7 477.8 575.2 476.8 575.6 476.3 576.1 478.0 576.5 477.0 577.0 476.2 577.4 477.0 577.9 477.6 578.3 477.3 578.8 476.9 579.2 477.4 579.7 477.2 580.1 478.4 580.6 478.3 581.0 477.2 581.5 477.9 581.9 478.3 582.4 477.1 582.8 477.0 583.3 477.8 583.7 478.0 584.2 477.6 584.6 477.8 585.1 478.0 585.5 477.6 586.0 477.6M598.6 478.0 599.0 478.0 599.5 478.5 599.9 478.1 600.4 478.6 600.8 478.2 601.3 477.3 601.7 477.6 602.2 477.6 602.6 478.1 603.1 478.1M609.8 478.3 610.3 478.3 610.7 479.2 611.2 479.3 611.6 477.9 612.1 479.3 612.5 477.7 613.0 478.8 613.4 479.1 613.9 477.9 614.3 478.2 614.8 479.1 615.2 478.6 615.7 478.0 616.1 477.9 616.6 478.9 617.0 478.0 617.5 478.0 617.9 478.2 618.4 478.8 618.8 477.9 619.3 478.5 619.7 478.4 620.2 478.4 620.6 479.4 621.1 478.9 621.5 479.6 622.0 479.8 622.4 479.9 622.9 478.5 623.3 479.3 623.8 478.3 624.2 478.1 624.7 479.2 625.1 479.0 625.6 478.3 626.0 478.5 626.5 479.3 626.9 479.1 627.4 478.2 627.8 479.6 628.3 478.0 628.7 478.7 629.2 479.1 629.6 479.1 630.1 479.1M642.7 479.5 643.1 479.5 643.6 480.6 644.0 480.3 644.5 479.7 644.9 479.7 645.4 480.6 645.8 480.3 646.3 479.3 646.7 479.7 647.2 479.7M653.9 479.9 654.4 479.9 654.8 480.2 655.3 479.8 655.7 479.8 656.2 479.6 656.6 479.8 657.1 479.4 657.5 480.8 658.0 479.9 658.4 479.4 658.9 479.8 659.3 481.0 659.8 480.5 660.2 479.7 660.7 479.4 661.1 480.0 661.6 480.2 662.0 480.2 662.5 480.2" stroke="#0a0ae0" stroke-width="3.4" stroke-linecap="round"/>
<path d="M137.5 320.4 137.5 319.5 137.5 319.0 137.5 320.3 137.5 319.1 137.5 318.9 137.5 318.2 137.5 317.3 137.5 317.7 137.5 316.8 137.5 316.7 137.5 315.9 137.5 315.8 137.5 314.3 137.5 313.1 137.5 312.6 137.5 313.5 137.5 311.7 137.5 312.4 137.5 311.8 137.5 310.0 137.5 311.3 137.5 309.1 137.5 310.7 137.5 310.2 137.5 308.3 137.5 309.2 137.5 308.8 137.5 306.9 137.5 307.9 137.5 306.1 137.5 307.6 137.5 306.7 137.5 307.0 137.5 304.4 137.5 304.6 137.5 304.8 137.5 304.3 137.5 302.8 137.5 303.9 137.5 303.3 137.5 301.5 137.5 300.7 137.5 301.4 137.5 300.3 137.5 300.4 137.5 299.5 137.5 298.8 137.5 297.4 137.5 297.1 137.5 297.5 137.5 297.8 137.5 296.7 137.5 297.1 137.5 296.2 137.5 296.6 137.5 295.7 137.5 294.4 137.5 293.5 137.5 292.9 137.5 292.4 137.5 293.9 137.5 293.5 137.5 292.7 137.5 290.8 137.5 291.7 137.5 290.0 137.5 291.4 137.5 290.4 137.5 290.2 137.5 289.5 137.5 288.6 137.5 289.1 137.6 288.9 137.6 286.7 137.6 286.7 137.6 287.0 137.6 286.4 137.6 285.3 137.6 284.9 137.6 285.7 137.6 283.5 137.6 282.9 137.6 283.5 137.7 282.1 137.7 283.2 137.7 281.4 137.7 282.4 137.7 280.7 137.7 281.5 137.7 280.8 137.7 280.3 137.8 278.6 137.8 278.0 137.8 277.2 137.8 277.1 137.8 277.8 137.8 275.9 137.8 275.8 137.9 276.1 137.9 274.6 137.9 274.5 137.9 273.8 137.9 274.3 137.9 272.5 137.9 274.1 138.0 272.7 138.0 272.6 138.0 271.8 138.0 271.2 138.0 272.0 138.1 271.4 138.1 270.8 138.1 268.4 138.1 269.2 138.1 269.5 138.1 268.3 138.2 267.5 138.2 267.3 138.2 265.7 138.2 266.6 138.2 266.4 138.3 264.4 138.3 265.1 138.3 265.0 138.3 264.0 138.3 264.5 138.4 264.6 138.4 264.0 138.4 262.1 138.4 261.2 138.5 262.4 138.5 261.4 138.5 261.4 138.5 261.0 138.6 259.1 138.6 259.3 138.6 258.1 138.6 258.8 138.6 258.1 138.7 256.5 138.7 256.7 138.7 256.4 138.7 255.1 138.8 254.5 138.8 254.7 138.8 253.3 138.9 253.8 138.9 254.4 138.9 253.7 138.9 251.4 139.0 252.8 139.0 252.1 139.0 251.7 139.0 249.6 139.1 251.0 139.1 249.3 139.1 250.3 139.2 248.8 139.2 248.6 139.2 247.7 139.3 249.0 139.3 247.1 139.3 248.2 139.4 246.9 139.4 245.6 139.5 246.4 139.5 245.6 139.6 244.0 139.6 245.4 139.7 243.6 139.7 242.6 139.7 243.9 139.8 243.4 139.8 242.1 139.9 241.1 139.9 241.4 140.0 241.1 140.0 240.8 140.1 239.8 140.1 239.4 140.2 239.3 140.2 237.5 140.3 237.1 140.3 237.5 140.4 237.7 140.4 237.5 140.5 237.2 140.5 235.9 140.5 236.1 140.6 234.2 140.6 234.4 140.6 233.2 140.6 234.5 140.7 234.4 140.7 233.2 140.7 232.9 140.8 231.5 140.8 232.0 140.8 229.8 140.9 229.9 140.9 229.4 141.0 230.1 141.0 228.0 141.1 227.5 141.1 227.0 141.2 228.4 141.3 226.8 141.3 227.8 141.4 226.1 141.5 226.9 141.5 225.0 141.6 226.3 141.7 226.0 141.8 225.4 141.9 224.5 142.0 224.6 142.1 224.2 142.2 223.8 142.3 221.7 142.4 222.5 142.5 221.9 142.6 220.3 142.8 219.4 142.9 220.7 143.0 219.2 143.1 219.0 143.3 219.4 143.4 218.1 143.6 217.1 143.7 217.8 143.8 217.0 144.0 215.9 144.1 216.4 144.3 216.5 144.5 214.4 144.6 215.3 144.8 214.6 144.9 213.6 145.1 212.5 145.3 213.3 145.4 212.0 145.6 211.6 145.8 212.7 146.0 211.0 146.1 210.2 146.3 211.6 146.5 211.4 146.7 209.3 146.9 209.1 147.1 208.9 147.3 208.9 147.5 206.7 147.7 207.8 147.9 206.4 148.1 207.7 148.3 206.0 148.5 206.9 148.7 205.3 148.9 205.4 149.2 203.6 149.4 203.7 149.6 203.6 149.8 203.5 150.1 202.7 150.3 203.0 150.5 201.9 150.8 202.7 151.0 203.3 151.3 202.7 151.5 201.8 151.8 202.3 152.1 201.4 152.3 200.8 152.6 200.0 152.9 198.7 153.2 200.3 153.5 200.0 153.8 199.4 154.1 198.8 154.4 198.7 154.7 198.7 155.0 198.4 155.3 197.5 155.6 195.3 155.9 197.2 156.2 195.9 156.5 195.3 156.8 194.9 157.1 194.1 157.4 193.2 157.7 194.3 158.1 194.0 158.4 192.3 158.7 194.0 159.0 193.7 159.3 193.3 159.7 192.2 160.0 191.5 160.3 191.4 160.7 190.9 161.0 192.0 161.3 191.6 161.7 191.3 162.0 190.0 162.3 189.7 162.7 189.8 163.0 188.6 163.4 188.0 163.7 189.6 164.1 187.6 164.4 187.3 164.8 187.5 165.1 186.2 165.5 186.9 165.8 185.8 166.2 187.2 166.6 185.2 166.9 186.8 167.3 185.4 167.7 186.5 168.0 186.3 168.4 186.5 168.8 184.4 169.1 186.1 169.5 183.8 169.9 184.0 170.2 182.9 170.6 183.8 171.0 182.6 171.3 183.3 171.7 183.9 172.1 183.2 172.4 182.5 172.8 180.8 173.1 182.6 173.5 180.7 173.9 181.9 174.2 179.8 174.6 180.1 175.0 181.4 175.3 180.8 175.7 179.3 176.0 179.8 176.4 179.6 176.8 178.6 177.1 178.1 177.5 177.5 177.9 178.1 178.2 177.6 178.6 177.0 178.9 177.1 179.3 176.6 179.7 176.5 180.0 177.2 180.4 175.5 180.7 175.1 181.1 175.8 181.5 175.1 181.8 175.3 182.2 176.0 182.5 175.9 182.9 175.3 183.2 175.3 183.6 173.4 184.0 173.4 184.3 172.5 184.7 172.6 185.0 172.2 185.4 171.9 185.8 171.8 186.1 172.9 186.5 171.6 186.9 172.3 187.2 171.1 187.6 171.4 187.9 170.9 188.3 170.5 188.7 171.0 189.0 169.9 189.4 169.4 189.8 168.5 190.1 167.9 190.5 168.4 190.9 168.1 191.2 167.1 191.6 168.9 192.0 166.5 192.3 167.3 192.7 166.7 193.1 166.9 193.5 167.7 193.8 167.8 194.2 166.1 194.6 166.5 194.9 166.6 195.3 164.8 195.7 164.7 196.0 164.5 196.4 165.1 196.8 163.6 197.2 164.8 197.5 162.8 197.9 163.8 198.3 163.4 198.7 161.7 199.0 162.2 199.4 163.2 199.8 162.0 200.2 161.1 200.6 161.9 200.9 161.9 201.3 161.6 201.7 161.3 202.1 162.3 202.5 161.4 202.8 160.6 203.2 160.4 203.6 160.9 204.0 159.4 204.4 159.7 204.8 160.1 205.1 158.3 205.5 158.2 205.9 157.8 206.3 159.0 206.7 159.1 207.1 158.6 207.5 158.2 207.9 156.5 208.2 157.0 208.6 157.0 209.0 156.4 209.4 155.9 209.8 155.9 210.2 155.3 210.6 154.7 211.0 155.7 211.4 154.1 211.7 154.8 212.1 154.5 212.5 155.3 212.9 154.8 213.3 154.1 213.7 152.8 214.1 154.3 214.5 154.2 214.9 153.8 215.3 154.4 215.7 153.1 216.1 152.6 216.5 152.8 216.8 151.6 217.2 152.6 217.6 151.3 218.0 152.4 218.4 151.9 218.8 151.8 219.2 150.3 219.6 151.3 220.0 151.5 220.4 151.3 220.8 150.5 221.2 148.9 221.6 150.2 222.0 148.6 222.4 150.4 222.8 148.0 223.2 147.8 223.6 148.6 224.0 147.6 224.4 149.6 224.8 149.3 225.2 147.5 225.6 148.8 226.0 147.4 226.4 148.4 226.8 146.4 227.2 148.1 227.6 146.6 228.0 145.8 228.4 146.0 228.8 144.7 229.2 144.5 229.6 145.4 230.0 145.5 230.5 146.3 230.9 145.1 231.3 144.5 231.7 144.2 232.1 143.5 232.5 145.4 232.9 144.7 233.3 143.4 233.7 144.4 234.1 144.0 234.5 143.7 234.9 143.0 235.3 143.8 235.7 143.7 236.1 143.0 236.6 141.4 237.0 141.8 237.4 142.1 237.8 142.6 238.2 141.3 238.6 141.1 239.0 139.9 239.4 139.7 239.8 140.1 240.2 140.9 240.6 139.6 241.1 140.7 241.5 140.2 241.9 139.1 242.3 139.5 242.7 140.0 243.1 137.9 243.5 139.1 243.9 139.3 244.3 139.7 244.7 138.0 245.2 138.6 245.6 138.9 246.0 137.5 246.4 138.5 246.8 138.3 247.2 138.7 247.6 137.2 248.0 136.4 248.5 137.2 248.9 137.4 249.3 137.9 249.7 137.3 250.1 136.5 250.5 137.0 250.9 136.8 251.3 136.0 251.8 134.9 252.2 134.1 252.6 135.3 253.0 133.8 253.4 134.5 253.8 135.9 254.2 134.0 254.7 134.9 255.1 134.9 255.5 133.7 255.9 134.2 256.3 134.7 256.7 134.2 257.1 133.1 257.6 134.5 258.0 133.6 258.4 132.3 258.8 133.5 259.2 133.2 259.6 133.2 260.0 132.9 260.5 132.6 260.9 131.5 261.3 132.2 261.7 132.0 262.1 132.0 262.5 130.4 263.0 132.0 263.4 130.9 263.8 131.5 264.2 130.4 264.6 130.8 265.0 130.2 265.5 129.3 265.9 129.6 266.3 130.2 266.7 128.8 267.1 130.2 267.5 129.6 268.0 129.7 268.4 128.9 268.8 129.2 269.2 129.0 269.6 128.3 270.0 127.1 270.5 128.2 270.9 128.3 271.3 127.8 271.7 127.2 272.1 127.3 272.5 126.1 273.0 127.2 273.4 125.6 273.8 125.6 274.2 125.3 274.6 127.2 275.0 126.9 275.5 126.0 275.9 126.7 276.3 124.8 276.7 125.8 277.1 125.3 277.6 124.3 278.0 125.3 278.4 124.1 278.8 124.2 279.2 123.7 279.7 123.6 280.1 124.9 280.5 123.7 280.9 123.6 281.3 122.3 281.8 122.2 282.2 121.9 282.6 123.2 283.0 122.8 283.4 123.0 283.9 122.5 284.3 121.5 284.7 121.7 285.1 121.5 285.6 122.7 286.0 122.0 286.4 122.1 286.8 121.5 287.2 122.1 287.7 121.5 288.1 119.5 288.5 119.6 288.9 119.3 289.4 121.3 289.8 119.5 290.2 120.0 290.6 120.1 291.0 119.0 291.5 119.0 291.9 120.3 292.3 118.4 292.7 119.8 293.2 118.8 293.6 119.2 294.0 118.3 294.4 118.8 294.9 118.8 295.3 117.9 295.7 117.5 296.1 117.7 296.5 118.2 297.0 116.3 297.4 116.6 297.8 116.7 298.2 117.4 298.7 116.8 299.1 115.9 299.5 117.4 299.9 116.6 300.3 117.3 300.8 116.0 301.2 117.3 301.6 116.4 302.0 115.8 302.5 115.1 302.9 116.4 303.3 114.6 303.7 115.9 304.1 115.6 304.6 113.8 305.0 114.9 305.4 114.8 305.8 113.2 306.3 114.7 306.7 115.0 307.1 113.4 307.5 113.8 308.0 113.4 308.4 112.8 308.8 112.4 309.2 113.5 309.6 114.0 310.1 111.8 310.5 111.4 310.9 112.5 311.3 111.7 311.8 112.9 312.2 111.4 312.6 110.6 313.0 111.1 313.5 111.1 313.9 111.0 314.3 110.9 314.7 110.5 315.1 112.0 315.6 109.7 316.0 110.1 316.4 111.4 316.8 109.8 317.3 109.7 317.7 110.0 318.1 110.5 318.5 110.8 319.0 110.6 319.4 109.0 319.8 110.6 320.2 108.6 320.7 110.0 321.1 109.9 321.5 107.9 321.9 108.3 322.4 107.7 322.8 108.1 323.2 108.8 323.6 108.8 324.0 108.6 324.5 106.7 324.9 107.3 325.3 108.7 325.7 108.2 326.2 108.1 326.6 106.5 327.0 106.3 327.4 106.9 327.9 107.0 328.3 105.7 328.7 107.3 329.1 106.3 329.6 107.0 330.0 106.7 330.4 105.2 330.8 104.7 331.3 105.8 331.7 104.8 332.1 104.9 332.5 105.1 333.0 105.6 333.4 104.4 333.8 104.2 334.2 105.0 334.7 103.0 335.1 103.8 335.5 103.2 335.9 104.0 336.4 104.4 336.8 103.4 337.2 102.7 337.6 102.4 338.1 104.1 338.5 103.1 338.9 103.7 339.3 101.8 339.8 101.6 340.2 101.1 340.6 102.0 341.0 101.8 341.5 102.4 341.9 101.8 342.3 101.1 342.7 100.5 343.2 102.1 343.6 102.5 344.0 100.8 344.4 100.6 344.9 101.0 345.3 100.4 345.7 101.2 346.1 100.3 346.6 100.2 347.0 99.8 347.4 99.3 347.8 100.8 348.3 100.7 348.7 98.8 349.1 99.1 349.5 99.7 350.0 98.7 350.4 98.7 350.8 98.8 351.2 97.8 351.7 97.9 352.1 98.5 352.5 98.8 352.9 96.6 353.4 98.4 353.8 96.4 354.2 97.6 354.6 96.0 355.1 97.1 355.5 96.2 355.9 97.4 356.3 95.3 356.8 96.3 357.2 97.2 357.6 96.0 358.0 95.6 358.5 95.9 358.9 96.2 359.3 95.8 359.7 95.1 360.2 94.5 360.6 95.9 361.0 95.1 361.4 96.1 361.9 94.5 362.3 94.3 362.7 94.6 363.2 95.7 363.6 95.1 364.0 93.8 364.4 94.7 364.9 94.8 365.3 92.8 365.7 94.2 366.1 93.4 366.6 94.2 367.0 93.6 367.4 92.5 367.8 91.6 368.3 92.2 368.7 92.0 369.1 91.3 369.5 92.3 370.0 92.5 370.4 91.3 370.8 90.4 371.2 91.4 371.7 90.8 372.1 90.0 372.5 90.0 372.9 90.6 373.4 89.6 373.8 89.7 374.2 91.6 374.6 90.4 375.1 89.5 375.5 89.0 375.9 89.5 376.4 89.4 376.8 90.8 377.2 88.8 377.6 90.5 378.1 89.3 378.5 89.9 378.9 89.2 379.3 90.0 379.8 89.9 380.2 88.9 380.6 88.1 381.0 87.9 381.5 87.4 381.9 87.4 382.3 88.2 382.7 87.5 383.2 87.7 383.6 88.5 384.0 87.7 384.4 88.0 384.9 87.4 385.3 86.0 385.7 85.4 386.2 86.8 386.6 85.3 387.0 86.4 387.4 84.9 387.9 85.9 388.3 85.6 388.7 85.3 389.1 86.1 389.6 85.7 390.0 84.4 390.4 85.0 390.8 84.7 391.3 84.5 391.7 83.9 392.1 83.7 392.5 84.5 393.0 82.9 393.4 83.6 393.8 83.6 394.3 83.3 394.7 83.7 395.1 83.9 395.5 83.1 396.0 82.1 396.4 82.1 396.8 83.8 397.2 82.5 397.7 82.4 398.1 81.6 398.5 82.4 398.9 81.6 399.4 81.8 399.8 81.6 400.2 82.3 400.2 82.5 400.2 83.3 400.2 83.7 400.2 82.3 400.3 84.1 400.3 83.8 400.3 84.5 400.3 85.3 400.3 85.8 400.3 86.4 400.3 86.5 400.3 86.2 400.3 88.7 400.3 86.9 400.3 89.5 400.4 90.0 400.4 89.6 400.4 88.9 400.4 90.5 400.4 90.0 400.4 90.5 400.4 92.1 400.4 92.2 400.4 91.0 400.4 93.6 400.5 92.7 400.5 92.9 400.5 93.5 400.5 93.6 400.5 94.6 400.5 96.1 400.5 96.9 400.5 97.1 400.5 97.1 400.5 97.1 400.6 97.7 400.6 97.3 400.6 98.0 400.6 98.0 400.6 100.1 400.6 99.0 400.6 99.6 400.6 100.6 400.6 102.0 400.6 100.6 400.7 102.7 400.7 102.0 400.7 102.7 400.7 103.2 400.7 105.0 400.7 105.6 400.7 104.4 400.7 105.7 400.7 105.6 400.7 106.1 400.8 107.8 400.8 107.8 400.8 107.9 400.8 107.8 400.8 108.4 400.8 109.0 400.8 110.3 400.8 109.3 400.8 110.5 400.9 111.5 400.9 110.2 400.9 111.1 400.9 112.9 400.9 111.7 400.9 114.3 400.9 113.5 400.9 114.4 400.9 113.6 401.0 114.8 401.0 115.3 401.0 116.5 401.0 116.5 401.0 115.8 401.0 116.1 401.0 117.0 401.0 118.2 401.0 117.5 401.1 118.0 401.1 118.9 401.1 119.1 401.1 120.5 401.1 120.0 401.1 120.5 401.1 122.3 401.1 122.4 401.1 123.2 401.1 122.1 401.2 123.7 401.2 123.5 401.2 124.1 401.2 123.9 401.2 125.7 401.2 126.1 401.2 125.8 401.2 126.1 401.2 126.3 401.3 127.4 401.3 127.4 401.3 128.2 401.3 129.1 401.3 130.2 401.3 130.7 401.3 129.3 401.3 131.5 401.4 131.0 401.4 130.8 401.4 132.1 401.4 133.5 401.4 132.7 401.4 132.9 401.4 133.8 401.4 134.2 401.5 135.5 401.5 135.8 401.5 136.5 401.5 134.8 401.5 136.8 401.5 136.7 401.6 137.4 401.6 138.5 401.6 137.7 401.6 137.4 401.6 138.5 401.6 140.6 401.7 140.9 401.7 140.3 401.7 139.9 401.7 141.8 401.8 141.3 401.8 143.2 401.8 142.9 401.8 142.9 401.8 142.9 401.9 143.9 401.9 144.6 401.9 144.9 401.9 146.4 402.0 147.1 402.0 147.0 402.0 146.9 402.1 147.9 402.1 146.8 402.1 148.3 402.1 148.8 402.2 149.3 402.2 148.9 402.2 150.7 402.3 149.9 402.3 150.5 402.3 150.2 402.4 151.5 402.4 150.7 402.4 152.5 402.5 152.1 402.5 154.3 402.5 153.6 402.6 153.6 402.6 155.2 402.6 154.5 402.7 156.0 402.7 156.4 402.8 158.1 402.8 158.2 402.8 158.8 402.9 159.5 402.9 159.0 402.9 159.5 403.0 159.9 403.0 160.6 403.0 161.1 403.1 161.6 403.1 162.2 403.2 162.7 403.2 161.3 403.2 163.2 403.3 163.5 403.3 164.4 403.3 163.6 403.4 165.1 403.4 163.7 403.4 165.1 403.5 165.2 403.5 165.7 403.6 165.9 403.6 167.3 403.6 166.9 403.7 167.1 403.7 168.9 403.7 169.7 403.8 169.0 403.8 168.8 403.8 171.1 403.9 170.3 403.9 170.7 404.0 172.3 404.0 170.9 404.0 172.5 404.1 172.2 404.1 173.3 404.2 173.4 404.2 173.3 404.2 175.6 404.3 175.1 404.3 174.8 404.4 176.0 404.4 176.7 404.5 178.0 404.5 177.0 404.6 176.9 404.6 178.3 404.7 179.6 404.7 178.1 404.8 180.7 404.8 180.1 404.9 180.5 404.9 181.3 405.0 182.0 405.1 182.3 405.1 183.3 405.2 183.1 405.2 182.9 405.3 183.6 405.4 184.1 405.4 184.1 405.5 184.8 405.6 185.5 405.6 187.3 405.7 187.6 405.8 187.7 405.8 188.0 405.9 187.4 406.0 188.1 406.0 188.1 406.1 190.0 406.2 190.1 406.3 190.4 406.3 189.3 406.4 191.4 406.5 191.9 406.6 191.7 406.6 192.7 406.7 193.3 406.8 193.4 406.9 193.1 407.0 194.2 407.0 195.4 407.1 194.0 407.2 196.2 407.3 195.4 407.4 196.7 407.5 195.7 407.6 196.9 407.6 198.6 407.7 198.1 407.8 198.2 407.9 198.2 408.0 198.7 408.1 199.7 408.2 200.8 408.3 199.2 408.4 200.1 408.5 200.8 408.6 201.1 408.7 203.3 408.8 203.5 408.9 203.3 409.0 202.7 409.1 205.3 409.2 205.3 409.3 206.1 409.4 205.1 409.5 205.5 409.6 206.1 409.7 206.5 409.9 207.0 410.0 208.8 410.1 208.9 410.2 207.5 410.3 208.8 410.5 208.6 410.6 209.9 410.7 210.3 410.8 211.3 410.9 212.1 411.1 211.7 411.2 213.1 411.3 211.9 411.5 212.6 411.6 212.6 411.7 214.6 411.9 214.9 412.0 214.7 412.1 214.3 412.3 214.8 412.4 214.5 412.5 216.2 412.7 215.8 412.8 216.3 413.0 216.9 413.1 218.6 413.2 217.9 413.4 220.0 413.5 219.6 413.7 218.9 413.8 219.5 414.0 221.7 414.1 220.8 414.3 221.3 414.4 220.6 414.6 222.6 414.8 222.1 414.9 221.7 415.1 222.5 415.3 223.4 415.4 223.4 415.6 224.4 415.8 225.7 415.9 225.1 416.1 227.3 416.3 226.9 416.5 227.4 416.7 227.7 416.9 227.9 417.1 228.6 417.3 228.1 417.4 228.7 417.6 228.8 417.8 230.0 418.0 230.4 418.2 231.4 418.5 231.5 418.7 232.2 418.9 231.5 419.1 232.9 419.3 231.5 419.5 232.7 419.8 233.3 420.0 232.2 420.2 233.2 420.5 233.9 420.7 235.2 420.9 234.8 421.2 236.6 421.4 236.2 421.7 237.1 421.9 237.8 422.2 237.0 422.5 237.6 422.7 236.7 423.0 238.1 423.3 237.7 423.5 238.2 423.8 239.1 424.1 238.6 424.4 240.1 424.6 239.7 424.9 241.4 425.2 242.3 425.5 241.0 425.8 241.3 426.1 241.1 426.4 241.2 426.7 241.7 427.0 242.3 427.3 243.6 427.6 244.0 427.9 243.6 428.3 243.8 428.6 243.9 428.9 243.8 429.2 246.0 429.6 244.3 429.9 245.2 430.2 244.6 430.6 246.2 430.9 246.4 431.2 245.8 431.6 247.4 431.9 247.4 432.3 248.3 432.6 248.2 433.0 248.0 433.3 249.1 433.7 249.0 434.0 250.2 434.4 250.7 434.7 250.8 435.1 250.5 435.4 249.8 435.8 249.5 436.1 251.6 436.5 249.8 436.8 252.0 437.2 250.6 437.6 251.1 437.9 252.3 438.3 251.3 438.6 252.1 439.0 252.6 439.4 251.8 439.7 252.4 440.1 252.9 440.5 254.2 440.8 254.6 441.2 253.7 441.6 256.1 441.9 254.6 442.3 254.8 442.7 255.4 443.0 255.1 443.4 256.0 443.8 255.4 444.2 256.2 444.5 257.8 444.9 256.5 445.3 257.7 445.7 257.7 446.0 258.6 446.4 257.4 446.8 259.6 447.2 258.3 447.6 260.0 448.0 258.4 448.4 258.7 448.8 260.3 449.1 259.5 449.5 260.3 449.9 260.9 450.3 260.7 450.7 261.0 451.1 261.4 451.5 259.7 451.9 260.5 452.3 262.3 452.7 262.2 453.2 260.8 453.6 262.8 454.0 262.7 454.4 262.0 454.8 262.1 455.2 262.2 455.6 263.5 456.0 262.3 456.4 262.9 456.9 263.5 457.3 263.5 457.7 263.7 458.1 263.0 458.5 264.4 458.9 263.7 459.4 265.5 459.8 263.9 460.2 265.9 460.6 264.8 461.0 264.1 461.5 265.0 461.9 265.0 462.3 264.9 462.7 265.9 463.2 266.0 463.6 266.4 464.0 266.4 464.4 265.7 464.8 267.5 465.3 266.6 465.7 265.7 466.1 267.5 466.5 268.2 467.0 268.0 467.4 268.0 467.8 267.9 468.2 266.8 468.7 267.0 469.1 268.7 469.5 268.6 469.9 268.3 470.4 267.8 470.8 268.7 471.2 269.6 471.6 267.8 472.1 268.4 472.5 269.2 472.9 268.7 473.4 269.9 473.8 268.8 474.2 268.8 474.7 269.0 475.1 268.6 475.5 269.6 475.9 270.0 476.4 271.1 476.8 270.0 477.2 271.3 477.7 269.5 478.1 270.4 478.5 272.0 479.0 270.8 479.4 270.3 479.8 270.7 480.3 272.2 480.7 272.3 481.1 272.3 481.5 272.9 482.0 273.0 482.4 273.1 482.8 273.0 483.3 271.9 483.7 272.4 484.1 272.9 484.6 272.5 485.0 271.7 485.4 272.4 485.9 272.6 486.3 272.5 486.7 272.0 487.2 273.4 487.6 272.7 488.0 273.7 488.5 273.1 488.9 274.0 489.3 274.6 489.8 274.1 490.2 273.7 490.6 274.7 491.1 274.0 491.5 275.2 491.9 275.9 492.4 275.7 492.8 275.2 493.2 276.0 493.7 275.2 494.1 275.5 494.5 274.1 495.0 275.0 495.4 275.0 495.8 274.5 496.3 274.7 496.7 276.2 497.1 275.3 497.6 276.1 498.0 277.3 498.4 275.5 498.9 276.3 499.3 277.2 499.7 277.6 500.2 277.0 500.6 276.4 501.0 277.7 501.5 276.7 501.9 277.1 502.4 278.0 502.8 277.0 503.2 276.8 503.7 279.0 504.1 277.1 504.5 278.8 505.0 278.9 505.4 279.1 505.8 277.2 506.3 277.6 506.7 279.6 507.2 278.7 507.6 279.0 508.0 278.1 508.5 278.7 508.9 278.3 509.3 279.6 509.8 279.3 510.2 280.7 510.6 280.8 511.1 279.7 511.5 281.4 512.0 280.0 512.4 279.5 512.8 280.0 513.3 281.4 513.7 280.8 514.1 281.9 514.6 280.4 515.0 281.8 515.5 280.7 515.9 281.8 516.3 282.4 516.8 281.6 517.2 282.6 517.6 282.0 518.1 281.9 518.5 282.6 519.0 281.7 519.4 281.6 519.8 281.6 520.3 281.4 520.7 281.5 521.1 282.7 521.6 283.1 522.0 281.8 522.5 284.0 522.9 283.0 523.3 282.2 523.8 284.3 524.2 282.6 524.7 284.5 525.1 282.5 525.5 284.2 526.0 283.3 526.4 282.5 526.9 283.0 527.3 283.9 527.7 283.4 528.2 284.2 528.6 284.1 529.1 283.3 529.5 284.1 529.9 285.4 530.4 283.7 530.8 284.8 531.3 285.8 531.7 285.1 532.1 284.0 532.6 284.9 533.0 283.8 533.5 284.6 533.9 286.0 534.4 284.0 534.8 284.1 535.2 285.7 535.7 284.2 536.1 286.3 536.6 285.3 537.0 286.0 537.5 286.9 537.9 285.6 538.3 286.4 538.8 285.5 539.2 287.0 539.7 286.6 540.1 286.5 540.6 287.0 541.0 286.0 541.4 286.6 541.9 285.9 542.3 286.3 542.8 286.8 543.2 287.6 543.7 287.3 544.1 287.0 544.5 287.3 545.0 286.6 545.4 287.6 545.9 286.4 546.3 287.5 546.8 288.1 547.2 286.7 547.7 287.5 548.1 287.2 548.5 288.4 549.0 287.5 549.4 287.0 549.9 287.4 550.3 286.8 550.8 289.0 551.2 287.2 551.7 287.6 552.1 289.0 552.5 288.5 553.0 287.7 553.4 288.4 553.9 289.9 554.3 288.5 554.8 289.9 555.2 289.9 555.7 289.0 556.1 288.9 556.5 289.3 557.0 287.8 557.4 288.2 557.9 289.5 558.3 289.8 558.8 289.5 559.2 290.0 559.7 288.9 560.1 288.6 560.6 290.3 561.0 289.4 561.4 288.3 561.9 289.9 562.3 289.4 562.8 290.2 563.2 288.7 563.7 290.2 564.1 290.8 564.6 289.5 565.0 290.6 565.5 290.2 565.9 290.6 566.4 289.7 566.8 289.4 567.2 290.8 567.7 291.0 568.1 289.6 568.6 289.5 569.0 290.4 569.5 291.3 569.9 289.9 570.4 291.7 570.8 291.6 571.3 289.7 571.7 290.5 572.2 290.0 572.6 290.5 573.1 290.8 573.5 290.1 574.0 292.2 574.4 290.5 574.8 290.6 575.3 290.3 575.7 291.0 576.2 290.6 576.6 290.9 577.1 292.3 577.5 291.6 578.0 291.3 578.4 290.9 578.9 291.7 579.3 292.4 579.8 292.2 580.2 291.2 580.7 292.6 581.1 291.3 581.5 292.3 582.0 292.0 582.4 291.6 582.9 293.0 583.3 292.0 583.8 292.8 584.2 293.8 584.7 292.8 585.1 293.4 585.6 292.6 586.0 293.6 586.5 292.7 586.9 292.3 587.4 293.9 587.8 293.1 588.3 292.5 588.7 293.5 589.1 293.1 589.6 293.9 590.0 292.6 590.5 293.0 590.9 294.0 591.4 293.6 591.8 292.8 592.3 293.4 592.7 293.0 593.2 294.4 593.6 293.1 594.1 294.0 594.5 293.7 595.0 293.6 595.4 294.6 595.8 294.2 596.3 293.9 596.7 293.9 597.2 293.6 597.6 294.3 598.1 294.4 598.5 294.9 599.0 295.3 599.4 295.5 599.9 293.3 600.3 293.4 600.8 295.1 601.2 295.9 601.7 295.7 602.1 295.0 602.6 295.5 603.0 293.9 603.4 294.4 603.9 295.4 604.3 294.7 604.8 295.6 605.2 296.0 605.7 294.9 606.1 295.4 606.6 296.1 607.0 295.6 607.5 295.6 607.9 296.4 608.4 295.9 608.8 295.6 609.3 295.0 609.7 295.8 610.1 295.2 610.6 295.5 611.0 294.7 611.5 296.2 611.9 294.9 612.4 295.5 612.8 295.0 613.3 294.9 613.7 296.7 614.2 296.8 614.6 295.3 615.1 296.3 615.5 297.4 616.0 296.9 616.4 295.9 616.8 295.5 617.3 297.1 617.7 296.6 618.2 296.7 618.6 297.0 619.1 296.0 619.5 297.8 620.0 296.0 620.4 295.6 620.9 297.5 621.3 297.6 621.8 297.8 622.2 297.0 622.6 297.7 623.1 297.5 623.5 296.5 624.0 297.4 624.4 297.4 624.9 297.3 625.3 297.7 625.8 298.2 626.2 297.2 626.7 297.9 627.1 297.4 627.6 298.8 628.0 298.8 628.4 297.0 628.9 299.0 629.3 298.7 629.8 297.2 630.2 298.1 630.7 298.5 631.1 297.6 631.6 298.2 632.0 299.3 632.5 298.8 632.9 298.3 633.4 297.4 633.8 298.6 634.2 297.5 634.7 299.0 635.1 298.1 635.6 298.2 636.0 300.0 636.5 298.9 636.9 298.2 637.4 299.2 637.8 299.0 638.3 298.3 638.7 299.0 639.2 300.3 639.6 299.9 640.1 300.3 640.5 299.2 640.9 299.0 641.4 298.8 641.8 299.6 642.3 300.9 642.7 300.6 643.2 300.4 643.6 299.7 644.1 300.6 644.5 300.5 645.0 300.2 645.4 299.9 645.9 299.6 646.3 300.6 646.8 300.4 647.2 299.7 647.7 299.4 648.1 301.4 648.5 300.4 649.0 301.0 649.4 299.6 649.9 301.8 650.3 300.2 650.8 300.9 651.2 302.1 651.7 301.9 652.1 300.4 652.6 301.1 653.0 301.9 653.5 302.0 653.9 301.7 654.4 302.1 654.8 300.4 655.3 302.5 655.7 301.8 656.1 300.9 656.6 302.7 657.0 302.1 657.5 300.8 657.9 300.9 658.4 301.0 658.8 302.4 659.3 302.4 659.7 301.4 660.2 302.5 660.6 301.0 661.1 302.8 661.5 303.0 662.0 301.1 662.4 301.1 662.9 300.8 663.3 301.4 663.8 301.7 664.2 302.4" stroke="#e00c0c" stroke-width="3.2" stroke-linecap="butt"/>
</g>
<g fill="none" stroke-width="0.8">
<circle cx="189.0" cy="169.3" r="3.9" stroke="#e62a2a"/>
<circle cx="294.1" cy="118.5" r="3.9" stroke="#e62a2a"/>
<circle cx="400.3" cy="80.6" r="3.9" stroke="#e62a2a"/>
<circle cx="505.0" cy="278.6" r="3.9" stroke="#e62a2a"/>
<circle cx="610.0" cy="295.4" r="3.9" stroke="#e62a2a"/>
<path d="M189.4 303.5l3.9 3.9l-3.9 3.9l-3.9 -3.9z" stroke="#000" fill="#fff"/>
<path d="M294.7 269.5l3.9 3.9l-3.9 3.9l-3.9 -3.9z" stroke="#000" fill="#fff"/>
<path d="M399.5 244.3l3.9 3.9l-3.9 3.9l-3.9 -3.9z" stroke="#000" fill="#fff"/>
<path d="M505.0 365.1l3.9 3.9l-3.9 3.9l-3.9 -3.9z" stroke="#000" fill="#fff"/>
<path d="M610.3 373.1l3.9 3.9l-3.9 3.9l-3.9 -3.9z" stroke="#000" fill="#fff"/>
<path d="M185.4 228.0l7.8 7.8m0 -7.8l-7.8 7.8" stroke="#0a661e"/>
<path d="M290.5 183.5l7.8 7.8m0 -7.8l-7.8 7.8" stroke="#0a661e"/>
<path d="M397.8 156.9l7.8 7.8m0 -7.8l-7.8 7.8" stroke="#0a661e"/>
<path d="M501.3 362.1l7.8 7.8m0 -7.8l-7.8 7.8" stroke="#0a661e"/>
<path d="M606.4 375.9l7.8 7.8m0 -7.8l-7.8 7.8" stroke="#0a661e"/>
<rect x="185.3" y="367.3" width="8.2" height="8.2" stroke="#2a2ae6"/>
<rect x="290.6" y="357.4" width="8.2" height="8.2" stroke="#2a2ae6"/>
<rect x="396.1" y="352.2" width="8.2" height="8.2" stroke="#2a2ae6"/>
<rect x="501.3" y="467.2" width="8.2" height="8.2" stroke="#2a2ae6"/>
<rect x="606.4" y="473.5" width="8.2" height="8.2" stroke="#2a2ae6"/>
</g>
<text x="482" y="206.4" font-size="26.5" style="fill:#e00c0c;stroke:#e00c0c">6 <tspan class="se">μ</tspan>M</text>
<text x="286.3" y="235.9" font-size="26.5" style="fill:#0a661e;stroke:#0a661e">4.5 <tspan class="se">μ</tspan>M</text>
<text x="315.8" y="314.6" font-size="26.5" style="fill:#000;stroke:#000">3 <tspan class="se">μ</tspan>M</text>
<text x="367" y="483.2" font-size="26.5" style="fill:#0a0ae0;stroke:#0a0ae0">1 <tspan class="se">μ</tspan>M</text>
<g fill="none" stroke="#000" stroke-width="1" stroke-opacity="0.55">
<path d="M130.0 675.5H656.0"/>
<path d="M130.0 1199.5H656.0"/>
<path d="M130.5 675.0V1200.0"/>
<path d="M655.5 675.0V1200.0"/>
</g>
<path d="M235.58 1199.0v-9.2M235.58 676.0v9.2M340.56 1199.0v-9.2M340.56 676.0v9.2M445.54 1199.0v-9.2M445.54 676.0v9.2M550.52 1199.0v-9.2M550.52 676.0v9.2M131.0 1124.53h9.2M655.0 1124.53h-9.2M131.0 1049.66h9.2M655.0 1049.66h-9.2M131.0 974.79h9.2M655.0 974.79h-9.2M131.0 899.91h9.2M655.0 899.91h-9.2M131.0 825.04h9.2M655.0 825.04h-9.2M131.0 750.17h9.2M655.0 750.17h-9.2" fill="none" stroke="#2a2a2a" stroke-width="0.65"/>
<text x="117.3" y="681.9" font-size="26.5" text-anchor="end">1,4</text>
<text x="117.3" y="756.8" font-size="26.5" text-anchor="end">1,2</text>
<text x="118.6" y="831.6" font-size="26.5" text-anchor="end">1</text>
<text x="117.3" y="906.5" font-size="26.5" text-anchor="end">0,8</text>
<text x="117.3" y="981.4" font-size="26.5" text-anchor="end">0,6</text>
<text x="117.3" y="1056.3" font-size="26.5" text-anchor="end">0,4</text>
<text x="117.3" y="1131.1" font-size="26.5" text-anchor="end">0,2</text>
<text x="117.3" y="1206.0" font-size="26.5" text-anchor="end">0</text>
<text x="130.6" y="1230.8" font-size="26.5" text-anchor="middle">0</text>
<text x="235.6" y="1230.8" font-size="26.5" text-anchor="middle">2</text>
<text x="340.6" y="1230.8" font-size="26.5" text-anchor="middle">4</text>
<text x="445.5" y="1230.8" font-size="26.5" text-anchor="middle">6</text>
<text x="550.5" y="1230.8" font-size="26.5" text-anchor="middle">8</text>
<text x="655.5" y="1230.8" font-size="26.5" text-anchor="middle">10</text>
<text x="389.9" y="1265.8" font-size="26" text-anchor="middle">[N-MDM2] (<tspan class="se">μ</tspan>M)</text>
<text class="se" x="36.4" y="653.9" font-size="30.6" textLength="38.3" lengthAdjust="spacingAndGlyphs">(b)</text>
<text transform="translate(26.2 985) rotate(-90)" font-size="26.5"><tspan font-style="italic">k</tspan><tspan font-size="17" dy="12.7">obs</tspan><tspan dy="-12.7"> (s</tspan><tspan font-size="16.6" dy="-13.9" dx="0.9">-1</tspan><tspan dy="13.9" dx="0.5">)</tspan></text>
<path d="M183.5 1061.3L444.9 704.4" stroke="#e00c0c" stroke-width="4.6" stroke-linecap="butt" fill="none"/><circle cx="444.9" cy="704.4" r="2.3" fill="#e00c0c"/>
<g fill="none" stroke="#e62a2a" stroke-width="0.85">
<circle cx="182.8" cy="1119.4" r="5.7"/>
<path d="M182.8 1118.8v1.2M179.6 1118.8h6.4M179.6 1120.0h6.4"/>
<circle cx="287.8" cy="823.6" r="5.7"/>
<path d="M287.8 816.1v15.0M284.6 816.1h6.4M284.6 831.1h6.4"/>
<circle cx="367.1" cy="804.1" r="5.7"/>
<path d="M367.1 795.1v18.0M363.9 795.1h6.4M363.9 813.1h6.4"/>
<circle cx="445.8" cy="745.4" r="5.7"/>
<path d="M445.8 737.1v16.6M442.6 737.1h6.4M442.6 753.7h6.4"/>
</g>
</svg></body></html>
